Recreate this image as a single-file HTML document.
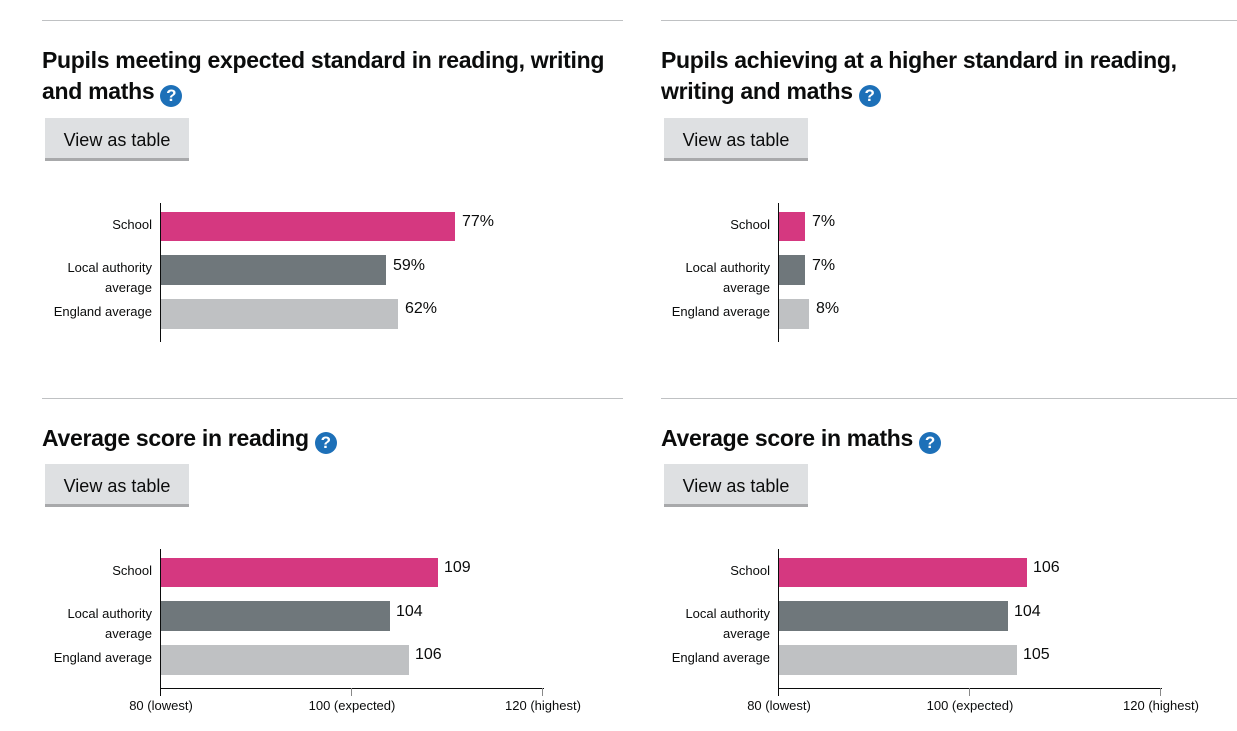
<!DOCTYPE html>
<html><head><style>
body{margin:0;width:1237px;height:731px;background:#fff;position:relative;overflow:hidden;font-family:"Liberation Sans",sans-serif;color:#0b0c0c}
.a{position:absolute}
.rule{height:1px;background:#bfc1c3}
.t{font-weight:bold;font-size:23px;line-height:31px;letter-spacing:-0.3px}
.q{display:inline-block;width:22px;height:22px;border-radius:50%;background:#1d70b8;color:#fff;font-size:17px;line-height:22px;text-align:center;vertical-align:-2px;margin-left:6px;letter-spacing:0}
.btn{width:144px;height:40px;background:#dee0e2;border-bottom:3px solid #a8a9ab;font-size:18px;line-height:44px;text-align:center}
.lbl{font-size:13px;text-align:right;width:120px;line-height:20px}
.val{font-size:16px}
.ax{background:#0b0c0c;width:1px}
</style></head><body>
<div class="a rule" style="left:42px;top:20px;width:581px"></div>
<div class="a rule" style="left:661px;top:20px;width:576px"></div>
<div class="a rule" style="left:42px;top:398px;width:581px"></div>
<div class="a rule" style="left:661px;top:398px;width:576px"></div>

<div class="a t" style="left:42px;top:45px;width:575px">Pupils meeting expected standard in reading, writing and maths<span class="q">?</span></div>
<div class="a t" style="left:661px;top:45px;width:545px">Pupils achieving at a higher standard in reading, writing and maths<span class="q">?</span></div>
<div class="a t" style="left:42px;top:423px">Average score in reading<span class="q">?</span></div>
<div class="a t" style="left:661px;top:423px">Average score in maths<span class="q">?</span></div>

<div class="a btn" style="left:45px;top:118px">View as table</div>
<div class="a btn" style="left:664px;top:118px">View as table</div>
<div class="a btn" style="left:45px;top:464px">View as table</div>
<div class="a btn" style="left:664px;top:464px">View as table</div>

<!-- TL -->
<div class="a ax" style="left:160px;top:203px;height:139px"></div>
<div class="a lbl" style="left:32px;top:215px">School</div>
<div class="a lbl" style="left:32px;top:258px">Local authority average</div>
<div class="a lbl" style="left:32px;top:302px">England average</div>
<div class="a" style="left:161px;top:212px;width:294px;height:29px;background:#d53880"></div>
<div class="a" style="left:161px;top:255px;width:225px;height:30px;background:#6f777b"></div>
<div class="a" style="left:161px;top:299px;width:237px;height:30px;background:#bfc1c3"></div>
<div class="a val" style="left:462px;top:213px">77%</div>
<div class="a val" style="left:393px;top:257px">59%</div>
<div class="a val" style="left:405px;top:300px">62%</div>
<!-- TR -->
<div class="a ax" style="left:778px;top:203px;height:139px"></div>
<div class="a lbl" style="left:650px;top:215px">School</div>
<div class="a lbl" style="left:650px;top:258px">Local authority average</div>
<div class="a lbl" style="left:650px;top:302px">England average</div>
<div class="a" style="left:779px;top:212px;width:26px;height:29px;background:#d53880"></div>
<div class="a" style="left:779px;top:255px;width:26px;height:30px;background:#6f777b"></div>
<div class="a" style="left:779px;top:299px;width:30px;height:30px;background:#bfc1c3"></div>
<div class="a val" style="left:812px;top:213px">7%</div>
<div class="a val" style="left:812px;top:257px">7%</div>
<div class="a val" style="left:816px;top:300px">8%</div>
<!-- BL -->
<div class="a ax" style="left:160px;top:549px;height:147px"></div>
<div class="a" style="left:160px;top:688px;width:384px;height:1px;background:#0b0c0c"></div>
<div class="a ax" style="left:351px;top:688px;height:8px;background:#888"></div>
<div class="a ax" style="left:542px;top:688px;height:8px;background:#888"></div>
<div class="a lbl" style="left:32px;top:561px">School</div>
<div class="a lbl" style="left:32px;top:604px">Local authority average</div>
<div class="a lbl" style="left:32px;top:648px">England average</div>
<div class="a" style="left:161px;top:558px;width:277px;height:29px;background:#d53880"></div>
<div class="a" style="left:161px;top:601px;width:229px;height:30px;background:#6f777b"></div>
<div class="a" style="left:161px;top:645px;width:248px;height:30px;background:#bfc1c3"></div>
<div class="a val" style="left:444px;top:559px">109</div>
<div class="a val" style="left:396px;top:603px">104</div>
<div class="a val" style="left:415px;top:646px">106</div>
<div class="a" style="left:101px;top:698px;width:120px;text-align:center;font-size:13px">80 (lowest)</div>
<div class="a" style="left:292px;top:698px;width:120px;text-align:center;font-size:13px">100 (expected)</div>
<div class="a" style="left:483px;top:698px;width:120px;text-align:center;font-size:13px">120 (highest)</div>
<!-- BR -->
<div class="a ax" style="left:778px;top:549px;height:147px"></div>
<div class="a" style="left:778px;top:688px;width:384px;height:1px;background:#0b0c0c"></div>
<div class="a ax" style="left:969px;top:688px;height:8px;background:#888"></div>
<div class="a ax" style="left:1160px;top:688px;height:8px;background:#888"></div>
<div class="a lbl" style="left:650px;top:561px">School</div>
<div class="a lbl" style="left:650px;top:604px">Local authority average</div>
<div class="a lbl" style="left:650px;top:648px">England average</div>
<div class="a" style="left:779px;top:558px;width:248px;height:29px;background:#d53880"></div>
<div class="a" style="left:779px;top:601px;width:229px;height:30px;background:#6f777b"></div>
<div class="a" style="left:779px;top:645px;width:238px;height:30px;background:#bfc1c3"></div>
<div class="a val" style="left:1033px;top:559px">106</div>
<div class="a val" style="left:1014px;top:603px">104</div>
<div class="a val" style="left:1023px;top:646px">105</div>
<div class="a" style="left:719px;top:698px;width:120px;text-align:center;font-size:13px">80 (lowest)</div>
<div class="a" style="left:910px;top:698px;width:120px;text-align:center;font-size:13px">100 (expected)</div>
<div class="a" style="left:1101px;top:698px;width:120px;text-align:center;font-size:13px">120 (highest)</div>
</body></html>
